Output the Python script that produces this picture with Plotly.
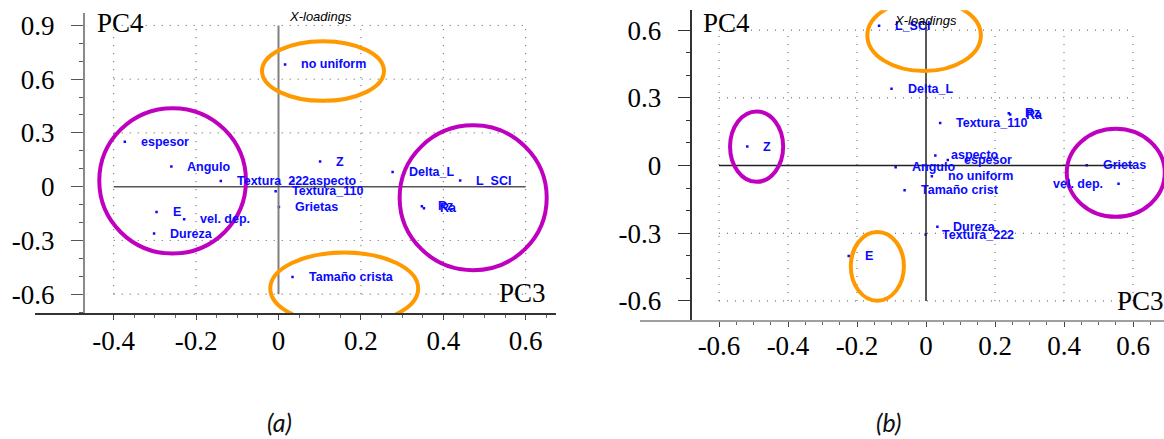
import numpy as np
import plotly.graph_objects as go

W, H = 1164, 439

# ---------------- data ----------------
names_a = ["no uniform", "espesor", "Angulo", "Textura_222", "aspecto", "Z", "Textura_110",
           "Grietas", "Delta_L", "L_SCI", "Rz", "Ra", "E", "vel. dep.", "Dureza", "Tamaño crista"]
pc3_a = [0.016, -0.373, -0.260, -0.140, 0.036, 0.101, -0.007,
         0.001, 0.277, 0.441, 0.348, 0.353, -0.296, -0.229, -0.302, 0.034]
pc4_a = [0.682, 0.251, 0.112, 0.031, 0.031, 0.140, -0.025,
         -0.114, 0.082, 0.034, -0.110, -0.121, -0.142, -0.182, -0.262, -0.504]

names_b = ["L_SCI", "Delta_L", "Rz", "Ra", "Textura_110", "Z", "aspecto", "espesor", "Angulo",
           "no uniform", "Tamaño crist", "Grietas", "vel. dep.", "Dureza", "Textura_222", "E"]
pc3_b = [-0.136, -0.100, 0.240, 0.244, 0.041, -0.518, 0.027, 0.063, -0.088,
         0.017, -0.062, 0.466, 0.558, 0.033, -0.001, -0.224]
pc4_b = [0.619, 0.340, 0.232, 0.226, 0.188, 0.084, 0.045, 0.025, -0.008,
         -0.047, -0.110, 0.001, -0.081, -0.271, -0.306, -0.401]
left_labels_b = ["vel. dep."]

xticks_a = [-0.4, -0.2, 0, 0.2, 0.4, 0.6]
xtext_a = ["-0.4", "-0.2", "0", "0.2", "0.4", "0.6"]
yticks_a = [0.9, 0.6, 0.3, 0, -0.3, -0.6]
ytext_a = ["0.9", "0.6", "0.3", "0", "-0.3", "-0.6"]
xticks_b = [-0.6, -0.4, -0.2, 0, 0.2, 0.4, 0.6]
xtext_b = ["-0.6", "-0.4", "-0.2", "0", "0.2", "0.4", "0.6"]
yticks_b = [0.6, 0.3, 0, -0.3, -0.6]
ytext_b = ["0.6", "0.3", "0", "-0.3", "-0.6"]

# highlight ellipses (x0, x1, y0, y1) in data units
ell_a = [("#FF9900", -0.040, 0.256, 0.479, 0.812),
         ("#BF00BF", -0.435, -0.079, -0.373, 0.438),
         ("#BF00BF", 0.294, 0.651, -0.466, 0.342),
         ("#FF9900", -0.020, 0.339, -0.770, -0.367)]
ell_b = [("#FF9900", -0.170, 0.159, 0.419, 0.734),
         ("#BF00BF", -0.568, -0.414, -0.072, 0.240),
         ("#FF9900", -0.218, -0.064, -0.599, -0.294),
         ("#BF00BF", 0.408, 0.692, -0.227, 0.163)]

BLUE = "#0a0aff"
SERIF = "Liberation Serif"
SANS = "Liberation Sans"

def px(x):
    return x / W

def py(y):
    return 1 - y / H

fig = go.Figure()

# ---------------- points ----------------
fig.add_trace(go.Scatter(x=pc3_a, y=pc4_a, mode="markers", xaxis="x", yaxis="y",
                         marker=dict(color=BLUE, size=2.5, symbol="square"), hoverinfo="text",
                         text=names_a, showlegend=False))
fig.add_trace(go.Scatter(x=pc3_b, y=pc4_b, mode="markers", xaxis="x2", yaxis="y2",
                         marker=dict(color=BLUE, size=2.5, symbol="square"), hoverinfo="text",
                         text=names_b, showlegend=False))

LABEL_FONT = dict(family=SANS, size=12.5, color=BLUE, weight="bold")

annotations = []
for n, xv, yv in zip(names_a, pc3_a, pc4_a):
    annotations.append(dict(x=xv, y=yv, xref="x", yref="y", text=n, showarrow=False,
                            xanchor="left", yanchor="middle", xshift=14, font=LABEL_FONT))
for n, xv, yv in zip(names_b, pc3_b, pc4_b):
    left = n in left_labels_b
    annotations.append(dict(x=xv, y=yv, xref="x2", yref="y2", text=n, showarrow=False,
                            xanchor="right" if left else "left", yanchor="middle",
                            xshift=-14 if left else 14, font=LABEL_FONT))

shapes = []
def dotted(xref, yref, x0, x1, y0, y1):
    shapes.append(dict(type="line", xref=xref, yref=yref, x0=x0, x1=x1, y0=y0, y1=y1,
                       line=dict(color="#555555", width=1, dash="1px,7px"), layer="below"))

# grid panel a
for v in xticks_a:
    if v != 0:
        dotted("x", "y", v, v, -0.6, 0.9)
for v in yticks_a:
    if v != 0:
        dotted("x", "y", -0.4, 0.6, v, v)
# zero lines panel a
shapes.append(dict(type="line", xref="x", yref="y", x0=0, x1=0, y0=-0.6, y1=0.9,
                   line=dict(color="#808080", width=2)))
shapes.append(dict(type="line", xref="x", yref="y", x0=-0.4, x1=0.6, y0=0, y1=0,
                   line=dict(color="#555555", width=1.5)))
# grid panel b
for v in xticks_b:
    if v != 0:
        dotted("x2", "y2", v, v, -0.6, 0.6)
for v in yticks_b:
    if v != 0:
        dotted("x2", "y2", -0.6, 0.6, v, v)
shapes.append(dict(type="line", xref="x2", yref="y2", x0=0, x1=0, y0=-0.6, y1=0.63,
                   line=dict(color="#222222", width=1.5)))
shapes.append(dict(type="line", xref="x2", yref="y2", x0=-0.6, x1=0.6, y0=0, y1=0,
                   line=dict(color="#222222", width=1.5)))

for c, x0, x1, y0, y1 in ell_a:
    shapes.append(dict(type="circle", xref="x", yref="y", x0=x0, x1=x1, y0=y0, y1=y1,
                       line=dict(color=c, width=4)))
for c, x0, x1, y0, y1 in ell_b:
    shapes.append(dict(type="circle", xref="x2", yref="y2", x0=x0, x1=x1, y0=y0, y1=y1,
                       line=dict(color=c, width=4)))

# text decorations
def ptext(x, y, t, size, family, color="black", xanchor="center"):
    annotations.append(dict(x=px(x), y=py(y), xref="paper", yref="paper", text=t,
                            showarrow=False, xanchor=xanchor, yanchor="middle",
                            font=dict(family=family, size=size, color=color)))

ptext(95, 21, "PC4", 27, SERIF, xanchor="left")
ptext(522, 292, "PC3", 27, SERIF)
ptext(701, 21, "PC4", 27, SERIF, xanchor="left")
ptext(1140, 300, "PC3", 27, SERIF)
ptext(320, 15, "<i>X-loadings</i>", 13, SANS)
ptext(926, 19, "<i>X-loadings</i>", 13, SANS)
ptext(279, 422, "<i>(a)</i>", 25, "Lato", color="#111111")
ptext(888, 422, "<i>(b)</i>", 25, "Lato", color="#111111")

# ---------------- axes geometry ----------------
# panel a: zero at px 278.5, 412 px/unit ; y zero at 185.5, 180 px/unit
ax_l, ax_r, ay_t, ay_b = 35, 556, 10.7, 312.3
xr_a = [(ax_l - 278.5) / 412, (ax_r - 278.5) / 412]
yr_a = [(185.5 - ay_b) / 180, (185.5 - ay_t) / 180]
# panel b: zero at px 926, 345 px/unit ; y zero at 164.3, 226.7 px/unit
bx_l, bx_r, by_t, by_b = 640, 1164, 8.3, 319.3
xr_b = [(bx_l - 926) / 345, (bx_r - 926) / 345]
yr_b = [(164.3 - by_b) / 226.7, (164.3 - by_t) / 226.7]

tickfont = dict(family=SERIF, size=27, color="black")

fig.update_layout(
    width=W, height=H, margin=dict(l=0, r=0, t=0, b=0),
    paper_bgcolor="white", plot_bgcolor="white",
    showlegend=False,
    xaxis=dict(domain=[px(ax_l), px(ax_r)], range=xr_a, anchor="y",
               showgrid=False, zeroline=False, showline=True, linecolor="#333333", linewidth=1.5,
               tickmode="array", tickvals=xticks_a, ticktext=xtext_a,
               ticks="outside", ticklen=5, tickcolor="#444444", tickfont=tickfont,
               ticklabelstandoff=-2,
               minor=dict(tickmode="array", tickvals=list(np.round(np.arange(-0.4, 0.66, 0.05), 2)),
                          ticks="outside", ticklen=3, tickcolor="#666666")),
    yaxis=dict(domain=[py(ay_b), py(ay_t)], range=yr_a, anchor="free", position=px(84),
               showgrid=False, zeroline=False, showline=True, linecolor="#8a8a8a", linewidth=2,
               tickmode="array", tickvals=yticks_a, ticktext=ytext_a,
               ticks="outside", ticklen=12, tickcolor="#555555", tickfont=tickfont,
               ticklabelstandoff=11,
               minor=dict(tickmode="array", tickvals=list(np.round(np.arange(-0.7, 0.95, 0.1), 2)),
                          ticks="outside", ticklen=4, tickcolor="#555555")),
    xaxis2=dict(domain=[px(bx_l), px(bx_r)], range=xr_b, anchor="y2",
                showgrid=False, zeroline=False, showline=True, linecolor="#a0a0a0", linewidth=2,
                tickmode="array", tickvals=xticks_b, ticktext=xtext_b,
                ticks="outside", ticklen=5, tickcolor="#444444", tickfont=tickfont,
                ticklabelstandoff=-4,
                minor=dict(tickmode="array", tickvals=list(np.round(np.arange(-0.6, 0.66, 0.05), 2)),
                           ticks="outside", ticklen=3, tickcolor="#666666")),
    yaxis2=dict(domain=[py(by_b), py(by_t)], range=yr_b, anchor="free", position=px(690.5),
                showgrid=False, zeroline=False, showline=True, linecolor="#333333", linewidth=1.5,
                tickmode="array", tickvals=yticks_b, ticktext=ytext_b,
                ticks="outside", ticklen=12, tickcolor="#333333", tickfont=tickfont,
                ticklabelstandoff=11,
                minor=dict(tickmode="array", tickvals=list(np.round(np.arange(-0.6, 0.65, 0.1), 2)),
                           ticks="outside", ticklen=4, tickcolor="#333333")),
    annotations=annotations,
    shapes=shapes,
)

fig.write_html("out.html", config={"displayModeBar": False},
               post_script="document.body.style.margin='0';document.body.style.overflow='hidden';")
